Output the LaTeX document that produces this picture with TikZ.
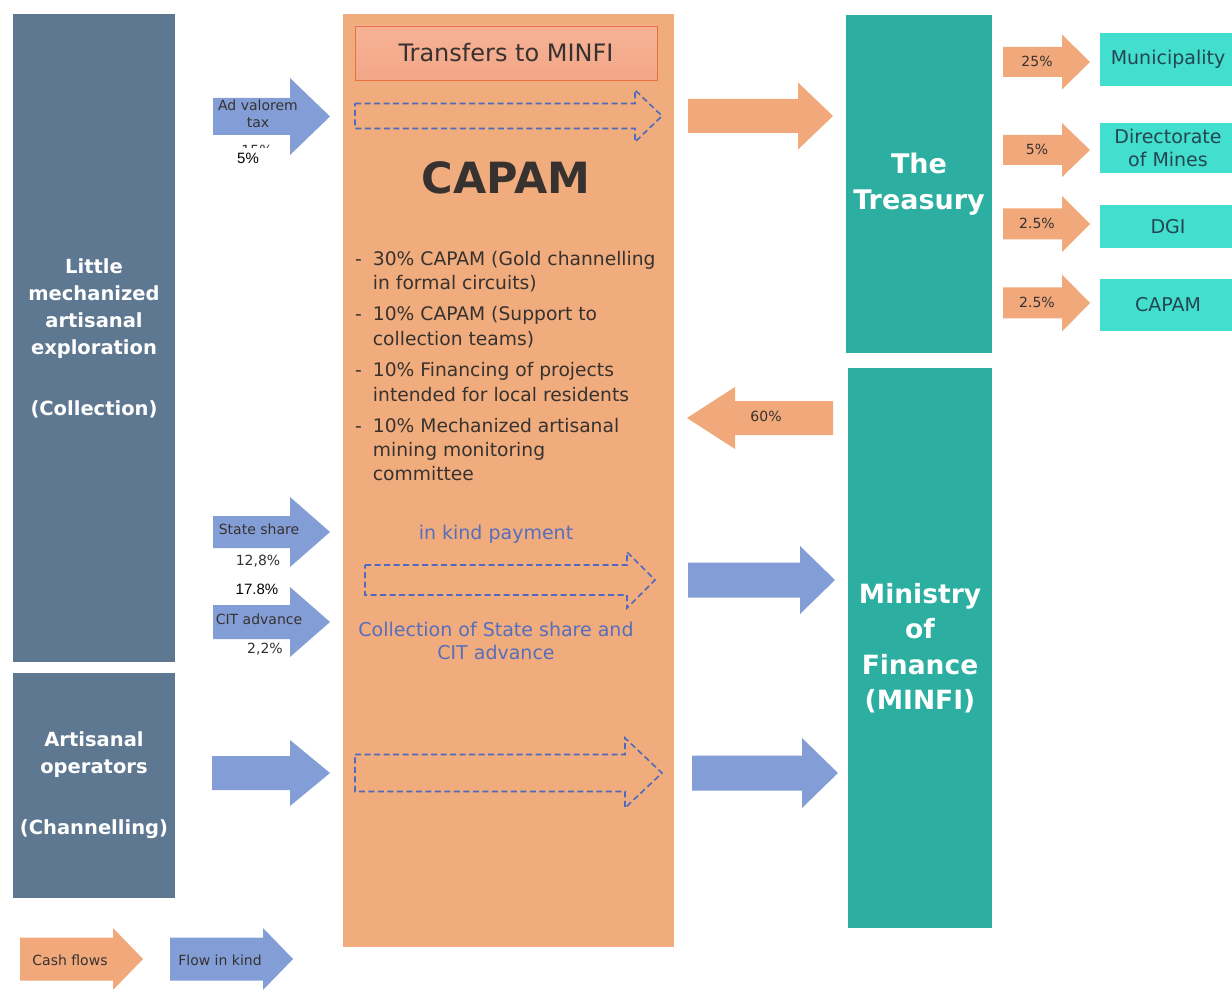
\documentclass[tikz,border=0pt]{standalone}
\usepackage{fontspec}
\setmainfont{DejaVu Sans}
\newfontfamily\plainfont{Liberation Sans}
\usetikzlibrary{positioning}

\definecolor{slate}{RGB}{94,120,145}
\definecolor{capamorange}{RGB}{240,172,124}
\definecolor{cashorange}{RGB}{241,168,122}
\definecolor{kindblue}{RGB}{131,158,214}
\definecolor{dashblue}{RGB}{78,106,190}
\definecolor{kindtext}{RGB}{86,110,188}
\definecolor{treasuryteal}{RGB}{44,174,160}
\definecolor{aqua}{RGB}{66,222,206}
\definecolor{darktext}{RGB}{55,50,48}
\definecolor{boxtext}{RGB}{36,70,82}
\definecolor{brick}{RGB}{232,112,62}

\newcommand{\fs}[2]{\fontsize{#1pt}{#2pt}\selectfont}
% style, tail x, head base x, tip x, mid y, half body, half head
\newcommand{\flowarrow}[7]{%
  \path[#1] (#2,#5-#6) -- (#3,#5-#6) -- (#3,#5-#7) -- (#4,#5)
    -- (#3,#5+#7) -- (#3,#5+#6) -- (#2,#5+#6) -- cycle;}

\tikzset{
  column/.style={fill=slate, text=white, font=\bfseries\fs{19.5}{27}, align=center, inner sep=0pt},
  tealbox/.style={fill=treasuryteal, text=white, font=\bfseries\fs{27}{36}, align=center, inner sep=0pt},
  aquabox/.style={fill=aqua, text=boxtext, font=\fs{19}{23}, align=center, inner sep=0pt},
  cash/.style={fill=cashorange},
  kind/.style={fill=kindblue},
  dashedflow/.style={draw=dashblue, line width=1.6pt, dash pattern=on 6pt off 3.5pt},
  arrowtext/.style={text=darktext, font=\fs{14}{17}, align=center, inner sep=0pt},
  kindlabel/.style={text=kindtext, font=\fs{19}{23}, align=center, inner sep=0pt},
}

\begin{document}
\begin{tikzpicture}[x=1pt, y=-1pt]
\useasboundingbox[fill=white] (0,0) rectangle (1232,992);

\node[column, minimum width=162, minimum height=648] (collect) at (94,338)
  {Little\\mechanized\\artisanal\\exploration\\[34pt](Collection)};
\node[column, minimum width=162, minimum height=225] (artisan) at (94,785.5)
  {Artisanal\\operators\\[34pt](Channelling)};

\node[fill=capamorange, minimum width=331, minimum height=933, inner sep=0pt] (capam) at (508.5,480.5) {};
\node[draw=brick, line width=0.8pt, top color={rgb,255:red,246;green,178;blue,150},
  bottom color={rgb,255:red,243;green,166;blue,136}, minimum width=302, minimum height=54,
  inner sep=0pt, text=darktext, font=\fs{24}{28}] (transfers) at (506,53) {Transfers to MINFI};
\node[text=darktext, font=\bfseries\fs{43}{50}, inner sep=0pt] (capamtitle) at (506,178) {CAPAM};
\node[anchor=north west, text=darktext, font=\fs{18.7}{24}, inner sep=0pt] (uses) at (355,248) {%
  \begin{tabular}{@{}l@{\hspace{11pt}}l@{}}
  - & 30\% CAPAM (Gold channelling\\
    & in formal circuits)\\[8pt]
  - & 10\% CAPAM (Support to\\
    & collection teams)\\[8pt]
  - & 10\% Financing of projects\\
    & intended for local residents\\[8pt]
  - & 10\% Mechanized artisanal\\
    & mining monitoring\\
    & committee
  \end{tabular}};
\node[kindlabel] (inkind) at (496,534) {in kind payment};
\node[kindlabel] (collection) at (496,641) {Collection of State share and\\CIT advance};

\node[tealbox, minimum width=146, minimum height=338] (treasury) at (919,184) {The\\Treasury};
\node[tealbox, font=\bfseries\fs{26.5}{35.5}, minimum width=144, minimum height=560] (minfi) at (920,648)
  {Ministry\\of\\Finance\\(MINFI)};

\node[aquabox, minimum width=136, minimum height=53] (municipality) at (1168,59.5) {Municipality};
\node[aquabox, minimum width=136, minimum height=50] (mines) at (1168,148) {Directorate\\of Mines};
\node[aquabox, minimum width=136, minimum height=43] (dgi) at (1168,226.5) {DGI};
\node[aquabox, minimum width=136, minimum height=52] (capamshare) at (1168,305) {CAPAM};

% flows in kind from the producers
\flowarrow{kind}{213}{290}{330}{116.5}{18.5}{38.5}
\flowarrow{kind}{213}{290}{330}{532}{16}{35}
\flowarrow{kind}{213}{290}{330}{622}{17}{35}
\flowarrow{kind}{212}{290}{330}{773}{17}{33}
\node[arrowtext] (advalorem) at (258,114) {Ad valorem\\tax};
\node[arrowtext] (oldrate) at (257,150) {15\%};
\node[fill=white, inner sep=0pt, minimum width=48, minimum height=20, font=\plainfont\fs{15}{18}] (rate) at (252,158) {\hspace*{-8pt}5\%};
\node[arrowtext] (stateshare) at (259,529) {State share};
\node[arrowtext] (staterate) at (258,561) {12,8\%};
\node[font=\plainfont\fs{15}{18}, inner sep=0pt] (total) at (257,589) {17.8\%};
\node[arrowtext] (citadvance) at (259,619) {CIT advance};
\node[arrowtext] (citrate) at (265,649) {2,2\%};

% dashed arrows inside CAPAM
\flowarrow{dashedflow}{355}{635}{662}{116}{12.5}{26}
\flowarrow{dashedflow}{365}{627}{655}{580}{15}{28}
\flowarrow{dashedflow}{355}{625}{662}{773}{18.5}{35}

% flows to the Treasury and MINFI
\flowarrow{cash}{688}{798}{833}{116}{17}{33.5}
\flowarrow{cash}{833}{735}{687}{418}{17}{31}
\node[arrowtext] (backshare) at (766,416) {60\%};
\flowarrow{kind}{688}{800}{835}{580}{17.5}{34}
\flowarrow{kind}{692}{802}{838}{773}{17.5}{35}

% sharing by the Treasury
\flowarrow{cash}{1003}{1062}{1090}{62}{15}{27.5}
\flowarrow{cash}{1003}{1062}{1090}{150}{15}{27}
\flowarrow{cash}{1003}{1062}{1090}{224}{15.5}{28}
\flowarrow{cash}{1003}{1062}{1090}{303}{15.5}{28.5}
\node[arrowtext] (munrate) at (1037,61) {25\%};
\node[arrowtext] (minesrate) at (1037,149) {5\%};
\node[arrowtext] (dgirate) at (1037,223) {2.5\%};
\node[arrowtext] (capamrate) at (1037,302) {2.5\%};

% legend
\flowarrow{cash}{20}{113}{143}{959}{21.5}{31}
\flowarrow{kind}{170}{263}{293}{959}{21.5}{31}
\node[arrowtext] (cashkey) at (70,960) {Cash flows};
\node[arrowtext] (kindkey) at (220,960) {Flow in kind};
\end{tikzpicture}
\end{document}
